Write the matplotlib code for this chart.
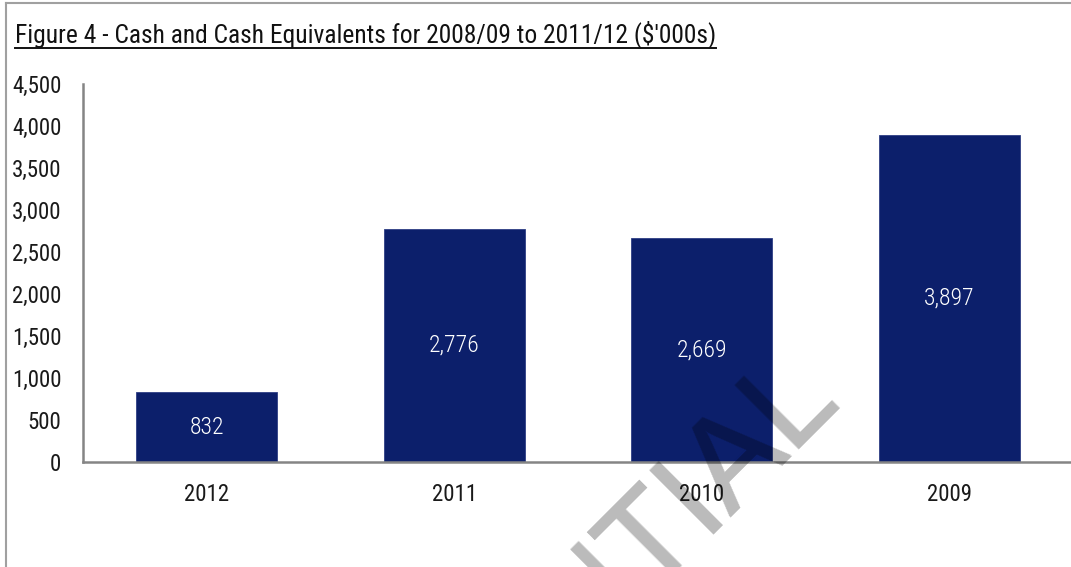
import matplotlib
matplotlib.use("Agg")
import numpy as np
import matplotlib.pyplot as plt
from matplotlib.lines import Line2D

# Cash and cash equivalents by financial year end ($'000s)
years = ["2012", "2011", "2010", "2009"]
cash = [832, 2776, 2669, 3897]
y_ticks = [0, 500, 1000, 1500, 2000, 2500, 3000, 3500, 4000, 4500]

plt.rcParams["font.family"] = ["Roboto Condensed", "DejaVu Sans"]

W, H = 1071, 567
fig = plt.figure(figsize=(W / 100, H / 100), dpi=100)
fig.patch.set_facecolor("white")


def fx(px):
    return px / W


def fy(py):
    return 1 - py / H


ax = fig.add_axes([fx(83), fy(462), fx(1073 - 83), fy(84) - fy(462)])
navy = "#0c1f6b"
xs = list(range(len(years)))
ax.bar(xs, cash, width=0.57, color=navy, edgecolor="#2e3f85", linewidth=0.6, zorder=2)

for x, v in zip(xs, cash):
    ax.text(x, v / 2, f"{v:,}", ha="center", va="center", color="white",
            fontsize=17, fontweight="light", zorder=3)

ax.set_xlim(-0.5, len(years) - 0.5)
ax.set_ylim(0, 4500)
ax.set_yticks(y_ticks)
ax.set_yticklabels([f"{t:,}" for t in y_ticks])
ax.set_xticks(xs)
ax.set_xticklabels(years)
ax.tick_params(axis="both", length=0, labelsize=16.5, colors="#1a1a1a")
ax.tick_params(axis="y", pad=15.5)
ax.tick_params(axis="x", pad=15)
for side in ("top", "right"):
    ax.spines[side].set_visible(False)
for side in ("left", "bottom"):
    ax.spines[side].set_color("#858585")
    ax.spines[side].set_linewidth(1.8)
ax.set_facecolor("none")

# frame around the figure panel
fig.add_artist(Line2D([fx(6), 1], [fy(3), fy(3)], color="#a0a0a0", lw=1.5))
fig.add_artist(Line2D([fx(6), fx(6)], [fy(3), 0], color="#a0a0a0", lw=1.5))

# underlined title, sized to span its panel width
title_x0, title_x1 = 15, 718
title = fig.text(fx(title_x0), fy(42), "Figure 4 - Cash and Cash Equivalents for 2008/09 to 2011/12 ($'000s)",
                 ha="left", va="baseline", fontsize=18, color="#111111")
fig.canvas.draw()
renderer = fig.canvas.get_renderer()
bb = title.get_window_extent(renderer=renderer)
title.set_fontsize(18 * (title_x1 - title_x0) / bb.width)
fig.canvas.draw()
bb = title.get_window_extent(renderer=renderer)
fig.add_artist(Line2D([bb.x0 / W, bb.x1 / W], [fy(48), fy(48)], color="#111111", lw=1.4))


class Thicken:
    """Agg filter: grow the glyph coverage a little and apply a flat translucency."""

    def __init__(self, radius, alpha):
        self.radius = radius
        self.alpha = alpha

    def __call__(self, im, dpi):
        r = self.radius
        a = np.pad(im[..., 3], r)
        out = np.zeros_like(a)
        h, w = im.shape[:2]
        for dy in range(-r, r + 1):
            for dx in range(-r, r + 1):
                if dx * dx + dy * dy <= r * r + 0.5:
                    out[r + dy:r + dy + h, r + dx:r + dx + w] = np.maximum(
                        out[r + dy:r + dy + h, r + dx:r + dx + w], a[r:r + h, r:r + w])
        res = np.zeros(out.shape + (4,), dtype=im.dtype)
        res[..., 3] = out * self.alpha
        return res, -r, -r


# watermark
wm = fig.text(fx(841), fy(400), "CONFIDENTIAL", rotation=45, rotation_mode="anchor",
              ha="right", va="baseline", fontsize=93, family=["Liberation Sans", "DejaVu Sans"],
              color="black", zorder=10)
wm.set_agg_filter(Thicken(1, 0.27))

fig.savefig("out.png", dpi=100)
